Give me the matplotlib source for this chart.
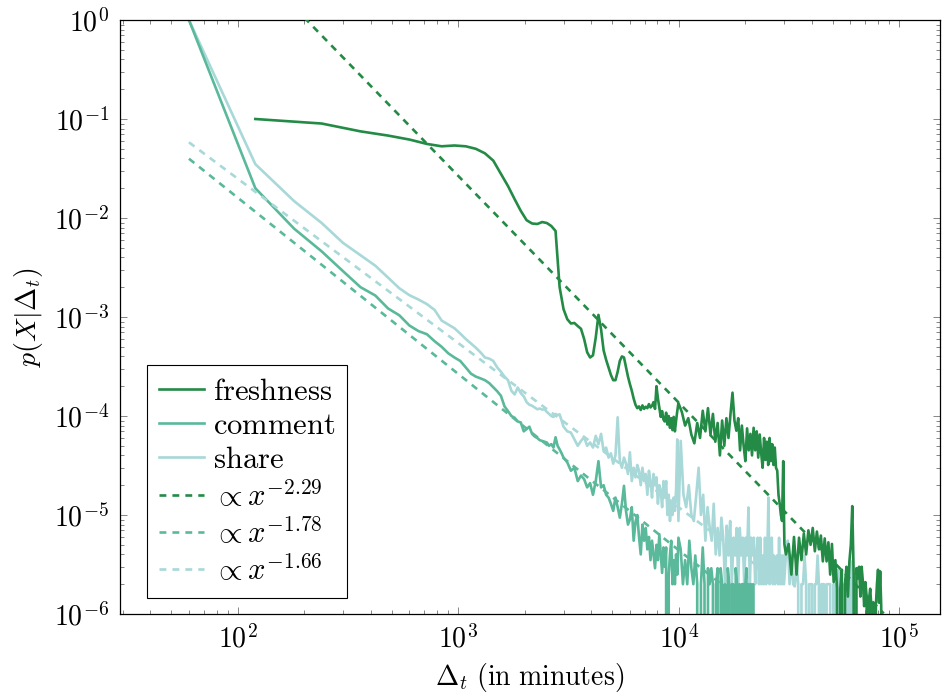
import numpy as np
import matplotlib
matplotlib.use('Agg')
import matplotlib.pyplot as plt
from matplotlib.ticker import FuncFormatter, NullFormatter, LogLocator

plt.rcParams['mathtext.fontset'] = 'cm'

# series are binned in minutes; each segment = (first bin, bin step, values)
fresh_segments = [
    (120, 120, [0.100, 0.090, 0.075, 0.068, 0.062, 0.056, 0.053, 0.054, 0.053, 0.050,
                0.045, 0.038, 0.028, 0.021, 0.0155, 0.0118, 0.0095, 0.0088, 0.0087, 0.0091,
                0.0089, 0.0083, 0.0074, 0.0020, 0.0012, 0.00095, 0.00086, 0.00087, 0.00081, 0.00076,
                0.00060, 0.00044, 0.00039, 0.00041, 0.00062, 0.00105, 0.00075, 0.00046, 0.00037, 0.00031,
                0.00026, 0.00023, 0.00023, 0.00028, 0.00036, 0.00040, 0.00039, 0.00031, 0.00025, 0.00021,
                0.00018, 0.00015, 0.00013, 1.20e-4, 1.25e-4, 1.15e-4, 1.28e-4, 1.18e-4, 1.24e-4, 1.20e-4,
                1.32e-4, 1.22e-4, 1.27e-4, 1.38e-4, 1.18e-4, 2.00e-4, 1.50e-4, 1.20e-4, 0.98e-4, 1.12e-4,
                0.92e-4, 0.88e-4, 1.08e-4, 0.82e-4, 1.00e-4, 0.76e-4, 0.95e-4, 0.72e-4, 0.98e-4, 0.70e-4,
                0.90e-4, 1.12e-4, 1.35e-4]),
    (10320, 360, [1.10e-4, 8.0e-5, 9.5e-5, 6.5e-5, 5.3e-5, 8.5e-5, 6.0e-5, 1.13e-4, 7.0e-5, 1.20e-4,
                  6.5e-5, 1.05e-4, 5.5e-5, 8.5e-5, 4.0e-5, 9.0e-5, 5.0e-5, 9.5e-5, 6.0e-5, 1.05e-4,
                  1.72e-4, 9.0e-5, 7.1e-5, 9.5e-5, 4.5e-5, 8.0e-5, 5.0e-5, 3.5e-5, 7.5e-5, 4.5e-5,
                  6.6e-5, 4.0e-5, 7.6e-5, 4.5e-5, 7.0e-5, 3.8e-5, 6.5e-5, 4.2e-5, 3.0e-5, 6.0e-5,
                  3.6e-5, 5.5e-5, 3.2e-5, 6.0e-5, 3.5e-5, 5.2e-5, 3.2e-5, 4.8e-5, 3.0e-5, 2.8e-5,
                  1.6e-5, 1.3e-5, 1.0e-5, 8.7e-6, 3.5e-5, 5.1e-6]),
    (30600, 900, [4.0e-6, 5.1e-6, 2.5e-6, 6.0e-6, 2.5e-6, 5.9e-6, 3.5e-6, 6.5e-6, 4.0e-6, 7.0e-6,
                  5.0e-6, 7.4e-6, 4.3e-6, 6.8e-6, 4.5e-6, 6.2e-6, 3.4e-6, 5.8e-6, 3.4e-6, 5.3e-6,
                  2.5e-6, 5.1e-6, 2.1e-6, 3.5e-6, 1.8e-6, 0, 1.8e-6, 2.8e-6, 0, 2.0e-6,
                  3.0e-6, 1.5e-6, 3.4e-6, 5.0e-6, 1.23e-5, 2.5e-6, 0, 2.9e-6, 2.3e-6, 3.0e-6,
                  1.5e-6, 3.0e-6, 2.1e-6, 1.2e-6, 2.1e-6, 1.5e-6, 0, 1.4e-6, 1.8e-6, 1.2e-6,
                  0, 1.3e-6, 0, 1.2e-6, 2.0e-6, 2.8e-6, 1.3e-6, 2.7e-6, 1.2e-6, 0]),
]

comment_segments = [
    (60, 60, [1.0, 0.020, 0.0078, 0.0046, 0.0029, 0.0020, 0.00165, 0.00122, 0.00104, 0.00082,
              0.00072, 0.00067, 0.00057, 0.00050, 0.00043, 0.00039, 0.00036, 0.00031, 0.000268, 0.000250,
              0.000240, 0.000230, 0.000215, 0.000195, 0.000178, 0.000160, 0.000125, 0.000112, 0.000100, 0.000096,
              0.000088, 0.000086, 0.000070, 0.000074, 0.000078, 0.000066, 0.000062, 0.000060, 0.000057, 0.000056,
              0.000055, 0.000054, 0.000050, 0.000052, 0.000048, 0.000061, 0.000050, 0.000046, 0.000042, 0.000038]),
    (3120, 120, [3.4e-5, 2.8e-5, 3.0e-5, 2.2e-5, 2.5e-5, 2.3e-5, 1.9e-5, 2.1e-5, 1.6e-5, 2.2e-5,
                 3.5e-5, 1.9e-5, 2.0e-5, 1.6e-5, 1.5e-5, 1.3e-5, 1.1e-5, 1.5e-5, 1.2e-5, 9.4e-6,
                 1.3e-5, 1.97e-5, 1.1e-5, 8.0e-6, 9.0e-6, 1.2e-5, 5.5e-6, 8.5e-6, 1.0e-5, 6.0e-6,
                 4.0e-6, 8.0e-6, 5.5e-6, 7.4e-6, 4.5e-6, 6.0e-6, 3.5e-6, 5.5e-6, 4.0e-6, 2.9e-6,
                 5.0e-6, 3.5e-6, 6.4e-6, 4.0e-6, 2.6e-6, 4.7e-6, 3.0e-6, 4.7e-6, 0, 2.5e-6,
                 4.0e-6, 5.5e-6, 2.0e-6, 3.5e-6, 2.0e-6, 4.0e-6, 2.5e-6, 5.9e-6]),
    (10200, 240, [4.5e-6, 2.0e-6, 3.5e-6, 2.0e-6, 5.5e-6, 2.9e-6, 2.0e-6, 3.9e-6, 2.0e-6, 0,
                  2.0e-6, 4.7e-6, 2.0e-6, 0, 2.9e-6, 2.0e-6, 2.9e-6, 2.0e-6, 0, 2.0e-6,
                  2.9e-6, 0, 2.9e-6, 2.0e-6, 0, 2.0e-6, 0, 2.9e-6, 2.0e-6, 0,
                  2.0e-6, 2.0e-6, 0, 2.9e-6, 2.0e-6, 0, 2.0e-6, 0, 2.0e-6, 2.0e-6,
                  0, 2.0e-6, 2.9e-6, 0, 2.0e-6, 0, 2.0e-6, 0, 2.0e-6, 0, 0]),
]

share_segments = [
    (60, 60, [1.0, 0.035, 0.0148, 0.0089, 0.0056, 0.0042, 0.0033, 0.0025, 0.00195, 0.00166,
              0.00150, 0.00135, 0.00118, 0.00092, 0.00084, 0.00077, 0.00068, 0.00060, 0.00054, 0.00049,
              0.00044, 0.00039, 0.00038, 0.00036, 0.00031, 0.00028, 0.00025, 0.00023, 0.00018, 0.000165,
              0.000194, 0.000170, 0.000158, 0.000138, 0.000130, 0.000127, 0.000122, 0.000117, 0.000119, 0.000116,
              0.000117, 0.000110, 0.000105, 0.000100, 0.000098, 0.000105, 0.000102, 0.000104, 0.000090, 0.000078]),
    (3120, 120, [7.0e-5, 6.8e-5, 5.8e-5, 5.0e-5, 5.6e-5, 6.1e-5, 5.0e-5, 5.4e-5, 4.8e-5, 6.3e-5,
                 5.2e-5, 6.6e-5, 4.4e-5, 4.8e-5, 3.8e-5, 4.2e-5, 3.3e-5, 4.0e-5, 9.7e-5, 3.5e-5,
                 3.0e-5, 3.8e-5, 3.3e-5, 2.6e-5, 4.3e-5, 2.2e-5, 3.0e-5, 2.4e-5, 3.2e-5, 2.8e-5,
                 2.0e-5, 3.0e-5, 2.2e-5, 2.6e-5, 1.6e-5, 2.8e-5, 2.2e-5, 1.5e-5, 2.6e-5, 2.0e-5,
                 2.4e-5, 1.3e-5, 2.0e-5, 1.75e-5, 1.2e-5, 2.2e-5, 1.5e-5, 2.2e-5, 1.0e-5, 1.6e-5,
                 8.7e-6, 1.4e-5, 1.0e-5, 1.5e-5, 1.1e-5, 1.8e-5, 5.8e-5, 8.7e-6]),
    (10200, 300, [5.6e-5, 1.6e-5, 1.2e-5, 2.0e-5, 1.0e-5, 8.7e-6, 1.6e-5, 3.0e-5, 1.0e-5, 1.6e-5,
                  5.5e-6, 1.2e-5, 7.5e-6, 5.5e-6, 1.3e-5, 4.0e-6, 7.4e-6, 3.9e-6, 9.4e-6, 5.9e-6,
                  2.0e-6, 7.8e-6, 3.9e-6, 8.7e-6, 2.0e-6, 5.9e-6, 3.9e-6, 7.4e-6, 2.0e-6, 7.4e-6,
                  3.9e-6, 5.9e-6, 2.0e-6, 5.9e-6, 3.9e-6, 1.19e-5, 2.0e-6, 5.9e-6, 3.9e-6, 5.9e-6,
                  2.0e-6, 3.9e-6, 5.9e-6, 2.0e-6, 5.9e-6, 2.0e-6, 3.9e-6, 2.0e-6, 5.9e-6, 2.0e-6,
                  3.9e-6, 1.5e-5, 2.0e-6, 3.9e-6, 5.9e-6, 2.0e-6, 3.9e-6, 2.0e-6, 2.5e-6, 3.9e-6,
                  2.0e-6, 5.9e-6, 2.0e-6, 3.9e-6, 2.0e-6, 3.9e-6, 2.0e-6]),
    (30600, 600, [3.9e-6, 5.5e-6, 2.0e-6, 3.9e-6, 2.0e-6, 1.9e-6, 3.4e-6, 2.0e-6, 0, 2.0e-6,
                  2.0e-6, 3.9e-6, 2.0e-6, 0, 2.0e-6, 2.0e-6, 2.0e-6, 0, 2.0e-6, 2.0e-6,
                  3.9e-6, 2.0e-6, 0, 2.0e-6, 2.0e-6, 2.0e-6, 0, 2.0e-6, 2.0e-6, 2.0e-6,
                  2.0e-6, 0, 0, 2.0e-6, 0, 2.0e-6, 0, 2.8e-6, 2.0e-6, 0,
                  2.0e-6, 0, 0, 2.0e-6, 0, 2.0e-6, 0, 1.8e-6, 2.0e-6, 0,
                  3.4e-6, 2.0e-6, 0, 2.0e-6, 0, 2.0e-6, 0]),
]

# power-law fits: exponent, log10 prefactor, x range
fit_exponents = [-2.29, -1.78, -1.66]
fit_log_prefactors = [5.294, 1.764, 1.716]
fit_ranges = [(120, 85000), (60, 22000), (60, 22000)]

names = ['freshness', 'comment', 'share']
colors = ['#238b45', '#5ab99a', '#a8d8d8']


def build(segments):
    xs, ys = [], []
    for start, step, vals in segments:
        xs.extend(start + step * np.arange(len(vals)))
        ys.extend(vals)
    return np.array(xs, dtype=float), np.array(ys, dtype=float)


fig = plt.figure(figsize=(9.42, 6.97), dpi=100)
ax = fig.add_axes([120 / 942, 1 - 614 / 697, 820 / 942, 594 / 697])
ax.set_xscale('log')
ax.set_yscale('log', nonpositive='clip')

handles = []
zorders = [2.3, 2.2, 2.1]
for segs, name, c, z in zip([fresh_segments, comment_segments, share_segments], names, colors, zorders):
    x, y = build(segs)
    h, = ax.plot(x, y, color=c, lw=1.9, label=r'$\mathrm{%s}$' % name, zorder=z)
    handles.append(h)

for expo, logc, (x0, x1), c in zip(fit_exponents, fit_log_prefactors, fit_ranges, colors):
    fx = np.array([x0, x1], dtype=float)
    fy = 10 ** logc * fx ** expo
    h, = ax.plot(fx, fy, color=c, lw=1.9, linestyle=(0, (2.6, 2.3)),
                 label=r'$\propto x^{%s}$' % ('%.2f' % expo), zorder=3)
    handles.append(h)

ax.set_xlim(29.2, 1.53e5)
ax.set_ylim(1e-6, 1)

fmt = FuncFormatter(lambda v, p: r'$10^{%d}$' % int(round(np.log10(v))))
ax.xaxis.set_major_formatter(fmt)
ax.yaxis.set_major_formatter(fmt)
ax.xaxis.set_minor_formatter(NullFormatter())
ax.yaxis.set_minor_formatter(NullFormatter())
ax.yaxis.set_major_locator(LogLocator(base=10, numticks=10))
ax.yaxis.set_minor_locator(LogLocator(base=10, subs=np.arange(2, 10), numticks=12))

ax.tick_params(which='both', direction='in', top=True, right=True, color='0.45', width=0.6)
ax.tick_params(which='major', length=5, labelsize=20, pad=8)
ax.tick_params(which='minor', length=3)
for s in ax.spines.values():
    s.set_linewidth(0.9)

ax.set_xlabel(r'$\Delta_t\ \mathrm{(in\ minutes)}$', fontsize=20, labelpad=5)
ax.set_ylabel(r'$p(X|\Delta_t)$', fontsize=20, labelpad=6)

leg = ax.legend(handles=handles, loc='lower left', bbox_to_anchor=(0.033, 0.027),
                borderaxespad=0, fontsize=22, frameon=True, fancybox=False,
                edgecolor='black', framealpha=1, handlelength=1.45,
                handletextpad=0.3, labelspacing=0.17, borderpad=0.4)
leg.get_frame().set_linewidth(0.8)

fig.savefig('out.png', dpi=100)
